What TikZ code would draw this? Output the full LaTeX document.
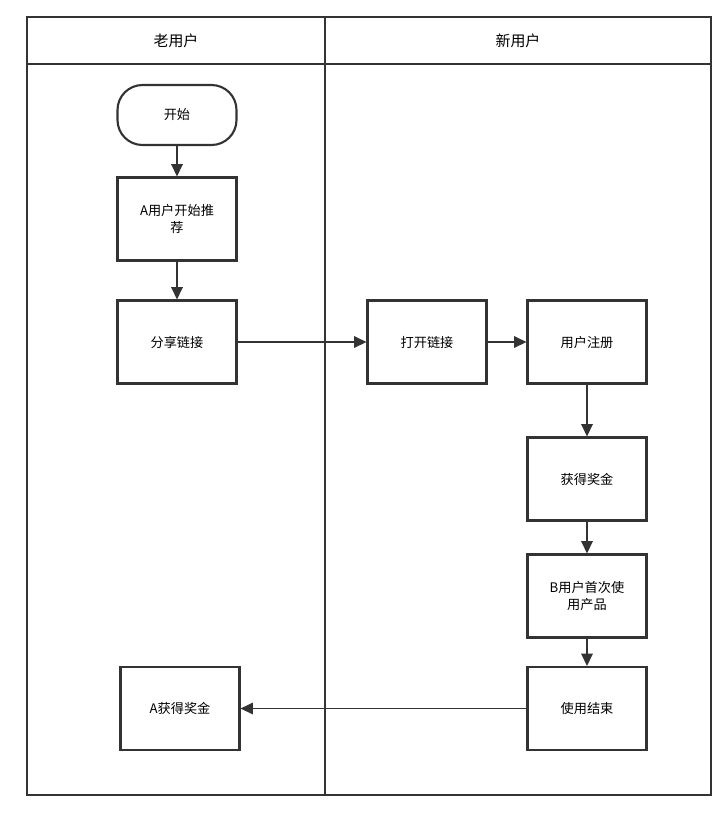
\documentclass[tikz,border=0pt]{standalone}
\usepackage{fontspec}
\setmainfont{Noto Sans CJK SC}
\usetikzlibrary{positioning,arrows.meta}
\tikzset{
  box/.style={draw=black!80,line width=1.2pt,minimum width=2.38cm,minimum height=1.66cm,align=center,font=\fontsize{7.5}{10}\selectfont},
  flow/.style={draw=black!80,line width=1.1pt,-{Triangle[length=7pt,width=6.5pt]}},
}
\begin{document}
\begin{tikzpicture}
\useasboundingbox (0,0) rectangle (14.4,-16.3);
% lanes
\draw[black!80,line width=1pt] (0.54,-0.34) rectangle (14.22,-15.9);
\draw[black!80,line width=1pt] (0.54,-1.28) -- (14.22,-1.28);
\draw[black!80,line width=1pt] (6.5,-0.34) -- (6.5,-15.9);
\node[font=\fontsize{8.5}{10}\selectfont] at (3.52,-0.81) {老用户};
\node[font=\fontsize{8.5}{10}\selectfont] at (10.36,-0.81) {新用户};

\node[box,rounded corners=0.5cm,minimum height=1.2cm] (start) at (3.54,-2.3) {开始};
\node[box] (rec) at (3.54,-4.38) {A用户开始推\\荐};
\node[box] (share) at (3.54,-6.84) {分享链接};
\node[box] (open) at (8.54,-6.84) {打开链接};
\node[box] (reg) at (11.74,-6.84) {用户注册};
\node[box] (bonus) at (11.74,-9.58) {获得奖金};
\node[box] (first) at (11.74,-11.92) {B用户首次使\\用产品};
\node[box] (done) at (11.74,-14.17) {使用结束};
\node[box] (abonus) at (3.6,-14.17) {A获得奖金};

\draw[flow] (start) -- (rec);
\draw[flow] (rec) -- (share);
\draw[flow] (share) -- (open);
\draw[flow] (open) -- (reg);
\draw[flow] (reg) -- (bonus);
\draw[flow] (bonus) -- (first);
\draw[flow] (first) -- (done);
\draw[flow] (done) -- (abonus);
\end{tikzpicture}
\end{document}
